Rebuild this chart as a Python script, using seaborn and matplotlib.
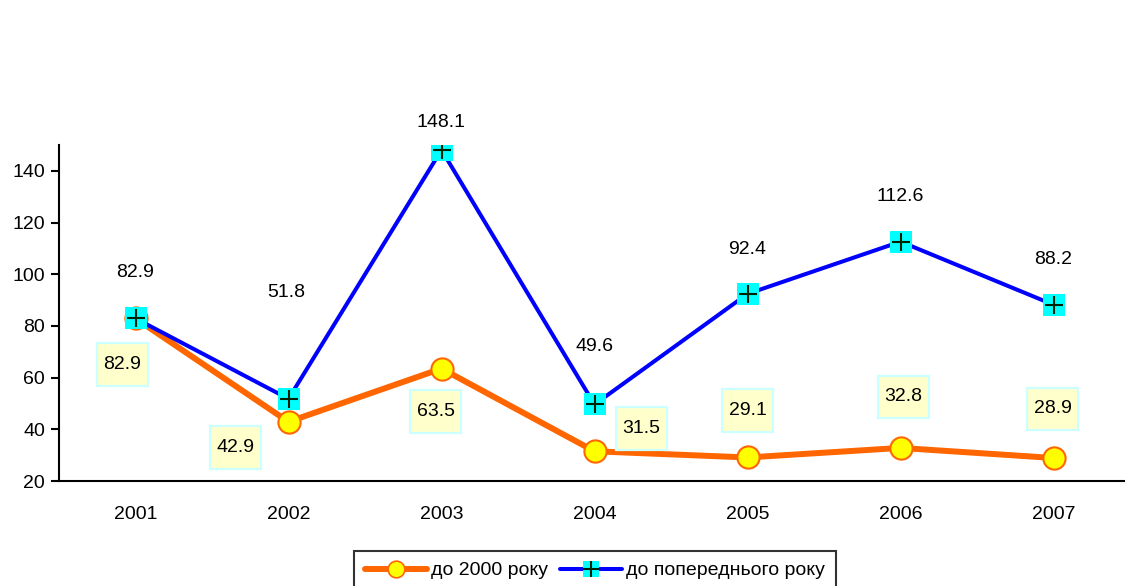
import matplotlib
matplotlib.use("Agg")
import matplotlib.pyplot as plt
import seaborn as sns
import pandas as pd
import numpy as np
from matplotlib.lines import Line2D
from matplotlib.path import Path
from matplotlib.legend_handler import HandlerTuple

years = ["2001", "2002", "2003", "2004", "2005", "2006", "2007"]
vs_2000 = [82.9, 42.9, 63.5, 31.5, 29.1, 32.8, 28.9]
vs_prev = [82.9, 51.8, 148.1, 49.6, 92.4, 112.6, 88.2]
name_2000 = "до 2000 року"
name_prev = "до попереднього року"
yticks = [20, 40, 60, 80, 100, 120, 140]

# label offsets in pixels (dx, dy) relative to the data point
prev_offsets = [(0, 46), (-2, 106), (0, 27), (0, 58), (0, 44), (0, 45), (0, 45)]
orange_offsets = [(-13, -44), (-53, -24), (-6, -41), (47, 25), (0, 49), (3, 53), (-1, 51)]

sns.set_style("white")
plt.rcParams['font.family'] = ['Liberation Sans', 'DejaVu Sans']
FS = 14


def tallbox(x0, y0, width, height, mutation_size):
    padx = 0.33 * mutation_size
    pady = 0.66 * mutation_size
    x0, y0 = x0 - padx, y0 - pady
    x1, y1 = x0 + width + 2 * padx, y0 + height + 2 * pady
    return Path([(x0, y0), (x1, y0), (x1, y1), (x0, y1), (x0, y0)], closed=True)


fig = plt.figure(figsize=(11.25, 5.86), dpi=100)
ax = fig.add_axes([59/1125, 1-481/586, (1130-59)/1125, (481-145)/586])

df = pd.DataFrame({"x": np.arange(len(years)), "a": vs_2000, "b": vs_prev})

ORANGE = "#FF6600"
BLUE = "#0000FF"

sns.lineplot(data=df, x="x", y="a", ax=ax, color=ORANGE, lw=4.3, marker="o",
             markersize=16, markerfacecolor="#FFFF00", markeredgecolor=ORANGE,
             markeredgewidth=1.5, zorder=3)
sns.lineplot(data=df, x="x", y="b", ax=ax, color=BLUE, lw=2.9, marker="s",
             markersize=15.5, markerfacecolor="#00FFFF", markeredgecolor="#00FFFF",
             markeredgewidth=0, zorder=4)
sns.scatterplot(data=df, x="x", y="b", ax=ax, marker="+", s=170, color="#002200",
                linewidth=1.5, zorder=5)

px = 0.72  # points per pixel
for i, (v, (dx, dy)) in enumerate(zip(vs_prev, prev_offsets)):
    ax.annotate(f"{v:.1f}", (i, v), xytext=(dx*px, dy*px), textcoords="offset points",
                ha="center", va="center", fontsize=FS, color="black", zorder=6)
for i, (v, (dx, dy)) in enumerate(zip(vs_2000, orange_offsets)):
    ax.annotate(f"{v:.1f}", (i, v), xytext=(dx*px, dy*px), textcoords="offset points",
                ha="center", va="center_baseline", fontsize=FS, color="black", zorder=6,
                bbox=dict(boxstyle=tallbox, fc="#FFFFCC", ec="#CCFFFF", lw=1.6))

ax.set_xlim(-0.5, len(years) - 0.5)
ax.set_ylim(20, 150)
ax.set_yticks(yticks)
ax.set_yticklabels([str(t) for t in yticks], fontsize=FS)
ax.set_xticks(np.arange(len(years)))
ax.set_xticklabels(years, fontsize=FS)
ax.set_xticks(np.arange(len(years) + 1) - 0.5, minor=True)
ax.tick_params(axis="x", which="major", length=0, pad=18, labelcolor="black")
ax.tick_params(axis="x", which="minor", length=6, width=1.5, direction="out", color="black")
ax.tick_params(axis="y", length=6, width=1.5, direction="out", color="black", pad=4,
               left=True, labelcolor="black")
ax.set_xlabel("")
ax.set_ylabel("")
for s in ["top", "right"]:
    ax.spines[s].set_visible(False)
for s in ["left", "bottom"]:
    ax.spines[s].set_color("black")
    ax.spines[s].set_linewidth(1.5)
ax.grid(False)
if ax.get_legend():
    ax.get_legend().remove()

h1 = Line2D([], [], color=ORANGE, lw=4.3, marker="o", markersize=12,
            markerfacecolor="#FFFF00", markeredgecolor=ORANGE, markeredgewidth=1.2)
h2a = Line2D([], [], color=BLUE, lw=2.9, marker="s", markersize=12,
             markerfacecolor="#00FFFF", markeredgewidth=0)
h2b = Line2D([], [], lw=0, marker="+", markersize=11, color="#002200", markeredgewidth=1.5)
leg = fig.legend([h1, (h2a, h2b)], [name_2000, name_prev],
                 handler_map={tuple: HandlerTuple(ndivide=1)},
                 loc="upper center", bbox_to_anchor=(595/1125, 1-551/586), ncol=2,
                 frameon=True, fancybox=False, edgecolor="black", fontsize=FS,
                 handlelength=3.2, handletextpad=0.2, columnspacing=0.6,
                 borderpad=0.55, borderaxespad=0)
leg.get_frame().set_linewidth(1.5)
for t in leg.get_texts():
    t.set_color("black")

fig.savefig("out.png", dpi=100)
